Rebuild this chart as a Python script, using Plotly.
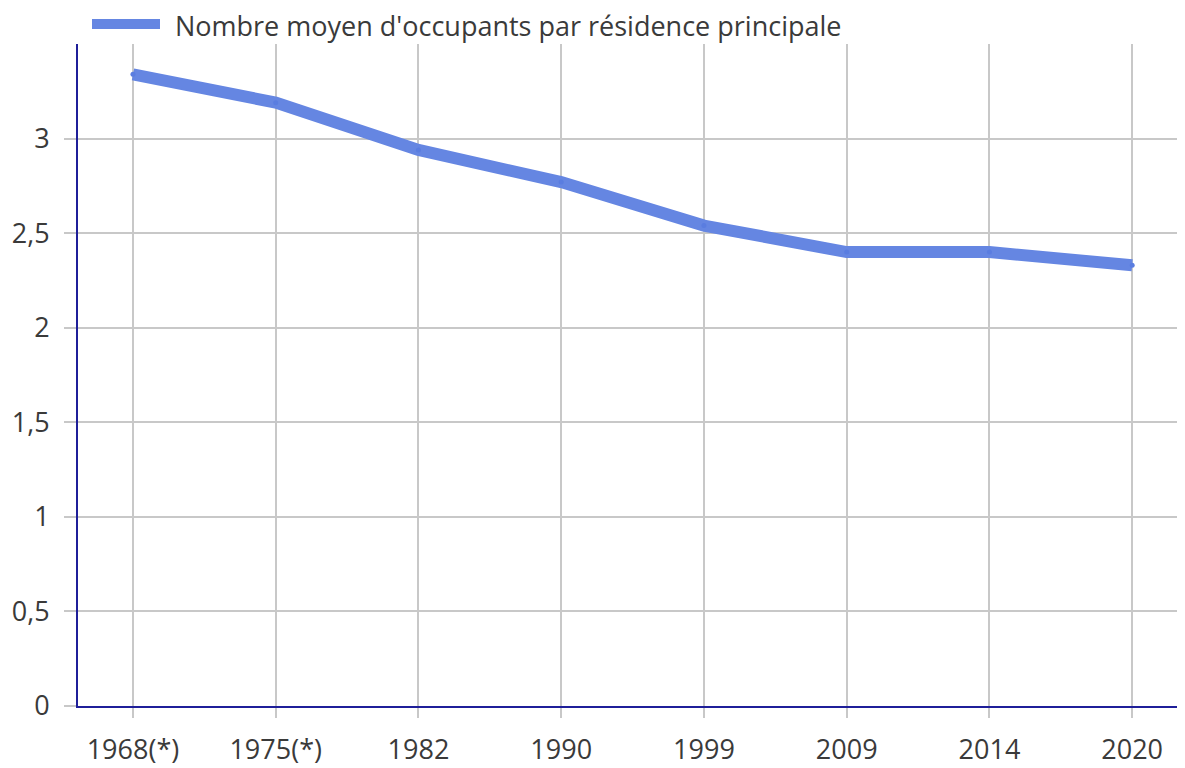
import plotly.graph_objects as go

years = ["1968(*)", "1975(*)", "1982", "1990", "1999", "2009", "2014", "2020"]
occupants = [3.34, 3.19, 2.94, 2.77, 2.54, 2.40, 2.40, 2.33]
y_ticks = [0, 0.5, 1, 1.5, 2, 2.5, 3]
y_tick_labels = ["0", "0,5", "1", "1,5", "2", "2,5", "3"]
series_name = "Nombre moyen d'occupants par résidence principale"

line_color = "#6586e2"
marker_color = "#5a7de0"
fig = go.Figure()
fig.add_trace(go.Scatter(
    x=years, y=occupants, name=series_name, mode="lines+markers",
    line=dict(color=line_color, width=12),
    marker=dict(color=marker_color, size=5),
    showlegend=False,
))

W, H = 1177, 760
ML, MT, MB = 70, 36, 62
plot_w = W - ML
plot_h = H - MT - MB
fs = 27
px_left = ML + 8
px_top = MT + 8


def px_to_paper_x(px):
    return (px - px_left) / plot_w


def px_to_paper_y(py):
    return 1 + (px_top - py) / plot_h


leg_y = px_to_paper_y(26)
fig.update_layout(
    width=W, height=H,
    margin=dict(l=ML, r=0, t=MT, b=MB, autoexpand=False),
    paper_bgcolor="white", plot_bgcolor="white",
    font=dict(family="Open Sans", size=fs, color="#3a3a3a"),
    showlegend=False,
    separators=", ",
)
# legend (swatch + label)
fig.add_shape(type="line", xref="paper", yref="paper",
              x0=px_to_paper_x(92), x1=px_to_paper_x(160),
              y0=px_to_paper_y(24), y1=px_to_paper_y(24),
              line=dict(color=line_color, width=10))
fig.add_annotation(xref="paper", yref="paper", x=px_to_paper_x(174), y=leg_y,
                   xanchor="left", yanchor="middle", showarrow=False, borderpad=0,
                   text=series_name, font=dict(size=fs, color="#3a3a3a"))
fig.update_xaxes(
    type="category", range=[-0.385, 7.37],
    showgrid=True, gridcolor="#c8c8c8", gridwidth=1.5,
    showline=True, linecolor="#1f1f99", linewidth=2,
    ticks="outside", ticklen=10, tickcolor="#c8c8c8", tickwidth=1.5,
    ticklabelstandoff=9,
    tickfont=dict(size=fs, color="#3a3a3a"),
)
fig.update_yaxes(
    range=[0, 3.5], tickvals=y_ticks, ticktext=y_tick_labels,
    showgrid=True, gridcolor="#c8c8c8", gridwidth=1.5,
    showline=True, linecolor="#1f1f99", linewidth=2,
    ticks="outside", ticklen=12, tickcolor="#c8c8c8", tickwidth=1.5,
    ticklabelstandoff=9,
    zeroline=False,
    tickfont=dict(size=fs, color="#3a3a3a"),
)
fig.write_html("out.html")
